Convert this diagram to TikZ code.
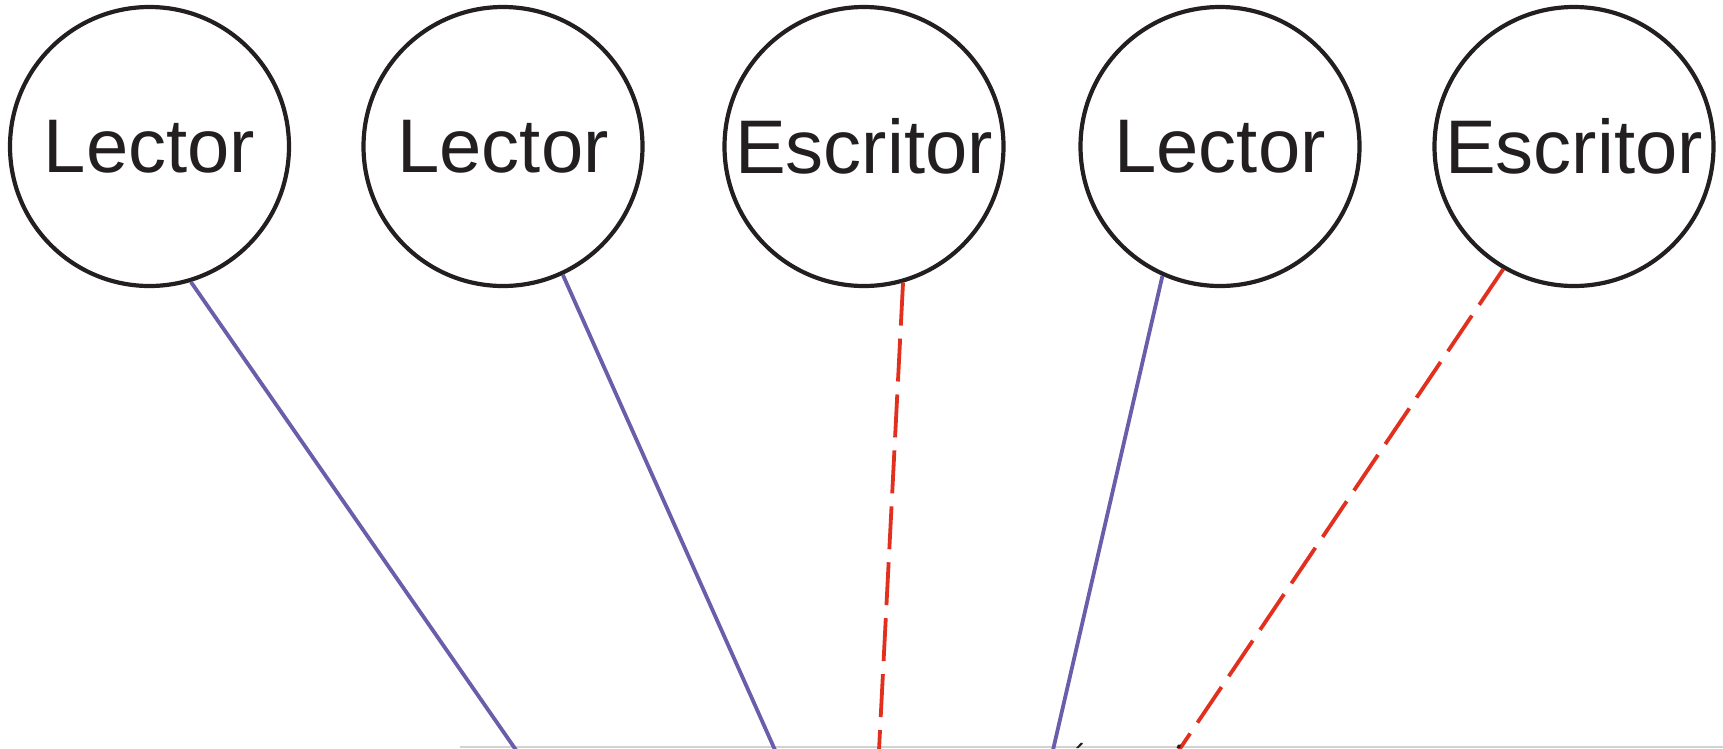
\documentclass[tikz,border=0pt]{standalone}
\usepackage{fontspec}
\setmainfont{Liberation Sans}
\definecolor{ringc}{RGB}{35,31,32}
\definecolor{readc}{RGB}{106,94,170}
\definecolor{writec}{RGB}{226,48,31}
\definecolor{edgec}{RGB}{210,210,210}
\begin{document}
\begin{tikzpicture}[x=1pt,y=-1pt,
  proc/.style={circle,draw=ringc,line width=4.2pt,minimum size=279pt,inner sep=0pt,
    font=\fontsize{76}{88}\selectfont,text=ringc},
  readline/.style={draw=readc,line width=3.8pt},
  writeline/.style={draw=writec,line width=3.8pt,dash pattern=on 43pt off 13pt}]
\useasboundingbox (0,0) rectangle (1723,748);
\node[proc] (c1) at (149.5,146.5) {Lector};
\node[proc] (c2) at (503,146.5) {Lector};
\node[proc] (c3) at (864,146.5) {Escritor};
\node[proc] (c4) at (1220,146.5) {Lector};
\node[proc] (c5) at (1574,146.5) {Escritor};
\coordinate (b1) at (516,750);
\coordinate (b2) at (775,750);
\coordinate (b3) at (879,750);
\coordinate (b4) at (1053,750);
\coordinate (b5) at (1179,750);
\coordinate (gl) at (460,747.2);
\coordinate (gr) at (1723,747.2);
\draw[edgec,line width=1.6pt] (gl) -- (gr);
\draw[readline] (c1.-73.1) -- (b1);
\draw[readline] (c2.-65.2) -- (b2);
\draw[writeline] (c3.-74) -- (b3);
\draw[readline] (c4.-114.8) -- (b4);
\draw[writeline] (c5.-120.6) -- (b5);
\fill[ringc] (1076,748) -- (1081,742.5) -- (1083,743.5) -- (1078.5,748) -- cycle;
\fill[ringc] (1176.5,748) -- (1178,744.5) -- (1181,744.5) -- (1180,748) -- cycle;
\end{tikzpicture}
\end{document}
